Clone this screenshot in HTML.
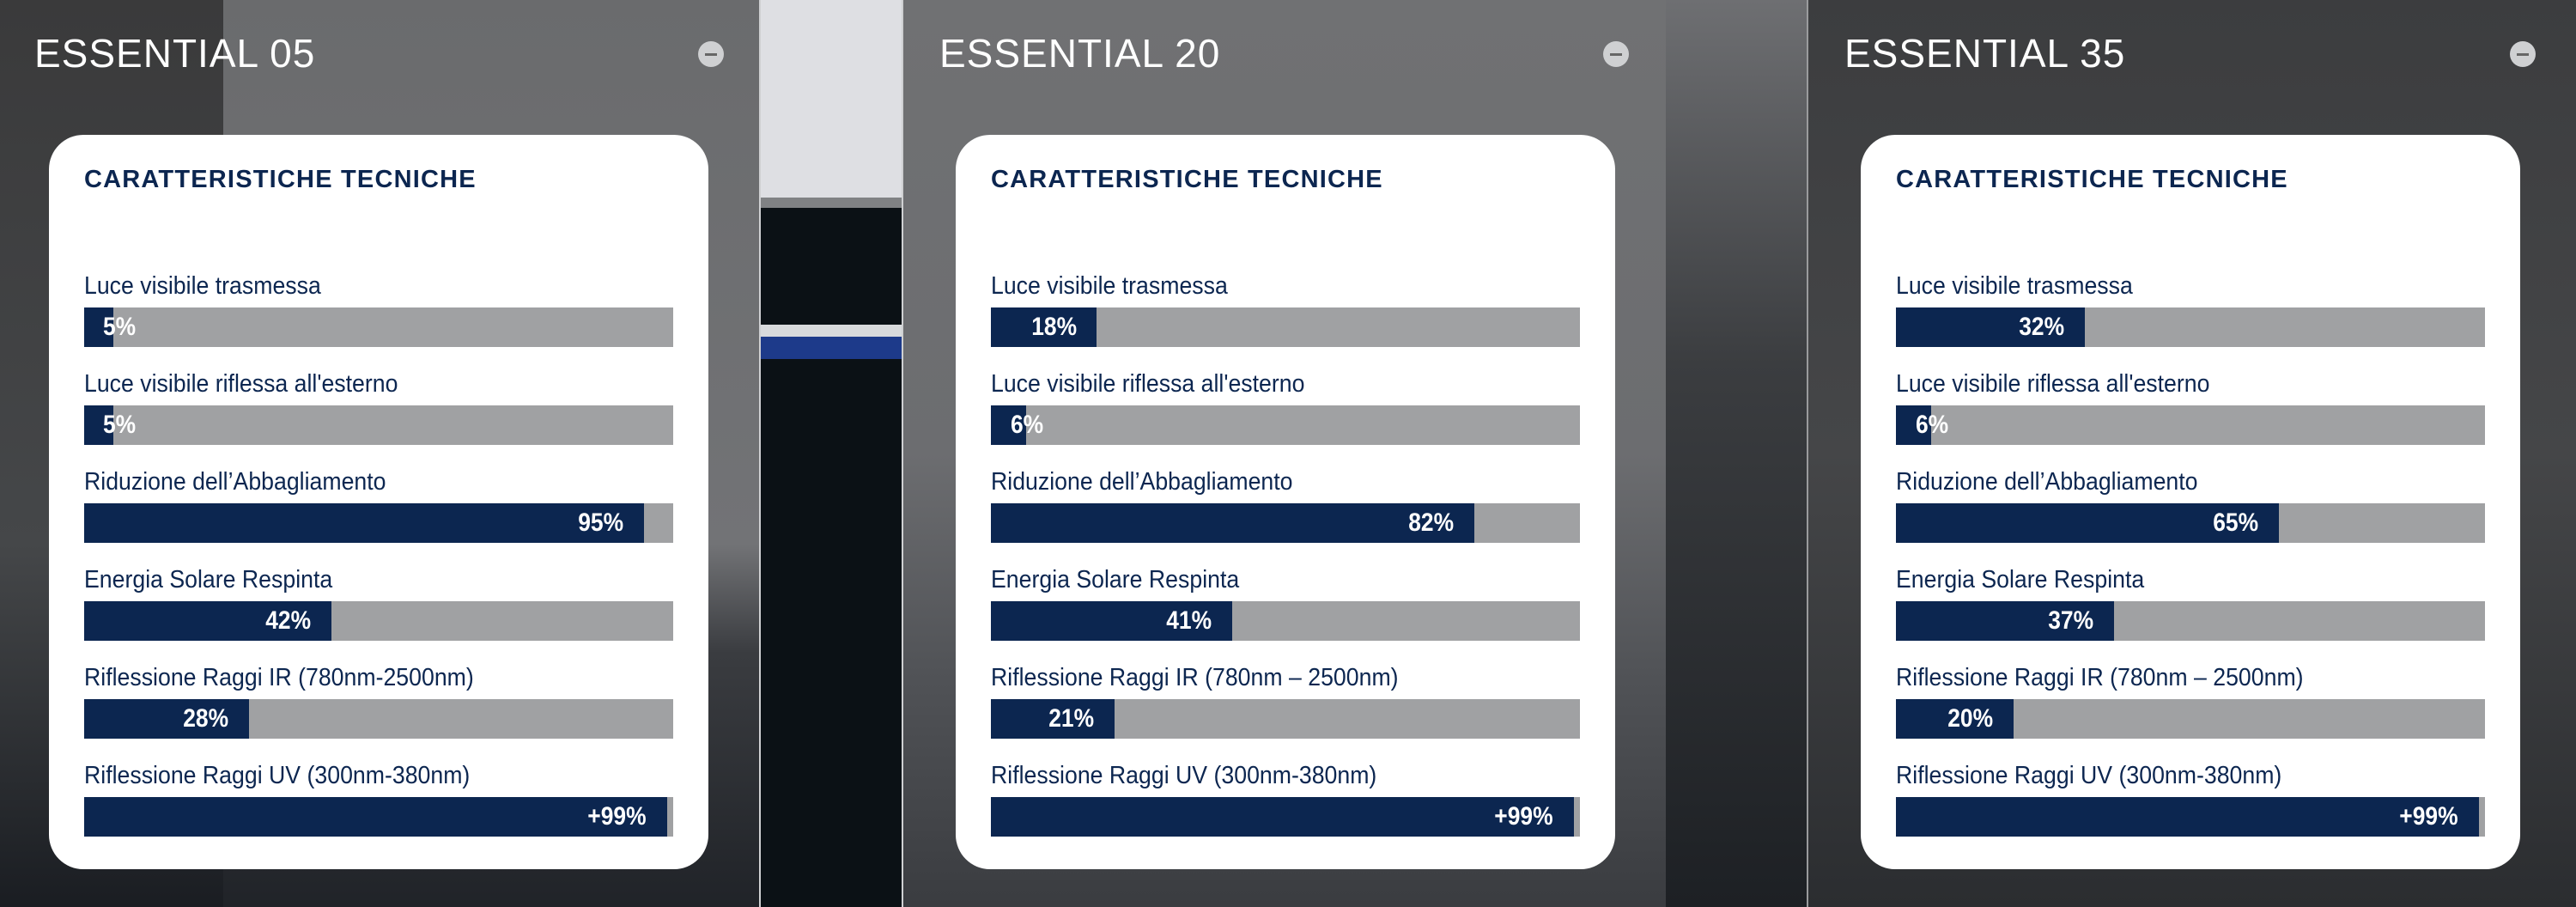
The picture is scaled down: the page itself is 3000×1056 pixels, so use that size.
<!DOCTYPE html>
<html><head><meta charset="utf-8"><style>
*{margin:0;padding:0;box-sizing:border-box}
body{width:3000px;height:1056px;overflow:hidden;position:relative;background:#1a1c1f;font-family:"Liberation Sans",sans-serif}
.abs{position:absolute}
.title{position:absolute;top:35px;color:#fff;font-size:46px;letter-spacing:1px}
.minus{position:absolute;top:48px;width:30px;height:30px;border-radius:50%;background:#cfd0d2}
.minus:after{content:"";position:absolute;left:8px;right:8px;top:14px;height:3px;background:#666}
.card{position:absolute;top:157px;width:768px;height:855px;background:#fff;border-radius:40px}
.card h2{position:absolute;left:41px;top:36px;font-size:29px;color:#0c2650;font-weight:bold;letter-spacing:1.2px;white-space:nowrap}
.lbl{position:absolute;left:41px;font-size:29px;color:#0c2650;white-space:nowrap;transform:scaleX(0.92);transform-origin:left}
.bar{position:absolute;left:41px;width:686px;height:46px;background:#a0a1a3}
.fill{position:absolute;left:0;top:0;height:46px;background:#0c2650}
.val{position:absolute;top:0;line-height:46px;color:#fff;font-weight:bold;font-size:30px;white-space:nowrap;transform:scaleX(0.88);transform-origin:right}
.val.l{transform-origin:left}
</style></head><body>
<div class="abs" style="left:0;top:0;width:3000px;height:1056px;background:linear-gradient(180deg,#3c3d40 0%,#2c2e31 60%,#16191c 100%)"></div>
<div class="abs" style="left:0;top:0;width:260px;height:1056px;background:linear-gradient(180deg,#3a3a3b,#454749 60%,#1a1d22)"></div>
<div class="abs" style="left:260px;top:0;width:624px;height:1056px;background:linear-gradient(180deg,#6a6b6d 0%,#727376 60%,#3a3c40 72%,#202328 100%)"></div>
<div class="abs" style="left:884px;top:0;width:168px;height:230px;background:#dedfe3"></div>
<div class="abs" style="left:884px;top:230px;width:168px;height:12px;background:#808284"></div>
<div class="abs" style="left:884px;top:242px;width:168px;height:814px;background:#0b1115"></div>
<div class="abs" style="left:884px;top:378px;width:168px;height:14px;background:#d8dadc"></div>
<div class="abs" style="left:884px;top:392px;width:168px;height:26px;background:#1d3a8a"></div>
<div class="abs" style="left:884px;top:0;width:2px;height:1056px;background:#cfd0d2"></div>
<div class="abs" style="left:1050px;top:0;width:2px;height:1056px;background:#cfd0d2"></div>
<div class="abs" style="left:1052px;top:0;width:888px;height:1056px;background:linear-gradient(180deg,#707173 0%,#6c6d70 50%,#505256 75%,#3a3c40 100%)"></div>
<div class="abs" style="left:1940px;top:0;width:166px;height:1056px;background:linear-gradient(180deg,#6e6f72 0%,#3b3d40 40%,#1d2024 100%)"></div>
<div class="abs" style="left:2104px;top:0;width:2px;height:1056px;background:#9a9b9d"></div>
<div class="abs" style="left:2106px;top:0;width:894px;height:1056px;background:linear-gradient(180deg,#3c3d3f 0%,#454648 50%,#2b2d30 100%)"></div>

<div class="title" style="left:40px">ESSENTIAL 05</div>
<div class="minus" style="left:813px"></div>
<div class="title" style="left:1094px">ESSENTIAL 20</div>
<div class="minus" style="left:1867px"></div>
<div class="title" style="left:2148px">ESSENTIAL 35</div>
<div class="minus" style="left:2923px"></div>

<div class="card" style="left:57px">
<h2>CARATTERISTICHE TECNICHE</h2>
<div class="lbl" style="top:160px">Luce visibile trasmessa</div>
<div class="bar" style="top:201px"><div class="fill" style="width:5%"></div><div class="val l" style="left:22px">5%</div></div>
<div class="lbl" style="top:274px">Luce visibile riflessa all'esterno</div>
<div class="bar" style="top:315px"><div class="fill" style="width:5%"></div><div class="val l" style="left:22px">5%</div></div>
<div class="lbl" style="top:388px">Riduzione dell’Abbagliamento</div>
<div class="bar" style="top:429px"><div class="fill" style="width:95%"></div><div class="val" style="right:58px">95%</div></div>
<div class="lbl" style="top:502px">Energia Solare Respinta</div>
<div class="bar" style="top:543px"><div class="fill" style="width:42%"></div><div class="val" style="right:422px">42%</div></div>
<div class="lbl" style="top:616px">Riflessione Raggi IR (780nm-2500nm)</div>
<div class="bar" style="top:657px"><div class="fill" style="width:28%"></div><div class="val" style="right:518px">28%</div></div>
<div class="lbl" style="top:730px">Riflessione Raggi UV (300nm-380nm)</div>
<div class="bar" style="top:771px"><div class="fill" style="width:99%"></div><div class="val" style="right:31px">+99%</div></div>
</div>

<div class="card" style="left:1113px">
<h2>CARATTERISTICHE TECNICHE</h2>
<div class="lbl" style="top:160px">Luce visibile trasmessa</div>
<div class="bar" style="top:201px"><div class="fill" style="width:18%"></div><div class="val" style="right:586px">18%</div></div>
<div class="lbl" style="top:274px">Luce visibile riflessa all'esterno</div>
<div class="bar" style="top:315px"><div class="fill" style="width:6%"></div><div class="val l" style="left:23px">6%</div></div>
<div class="lbl" style="top:388px">Riduzione dell’Abbagliamento</div>
<div class="bar" style="top:429px"><div class="fill" style="width:82%"></div><div class="val" style="right:147px">82%</div></div>
<div class="lbl" style="top:502px">Energia Solare Respinta</div>
<div class="bar" style="top:543px"><div class="fill" style="width:41%"></div><div class="val" style="right:429px">41%</div></div>
<div class="lbl" style="top:616px">Riflessione Raggi IR (780nm – 2500nm)</div>
<div class="bar" style="top:657px"><div class="fill" style="width:21%"></div><div class="val" style="right:566px">21%</div></div>
<div class="lbl" style="top:730px">Riflessione Raggi UV (300nm-380nm)</div>
<div class="bar" style="top:771px"><div class="fill" style="width:99%"></div><div class="val" style="right:31px">+99%</div></div>
</div>

<div class="card" style="left:2167px">
<h2>CARATTERISTICHE TECNICHE</h2>
<div class="lbl" style="top:160px">Luce visibile trasmessa</div>
<div class="bar" style="top:201px"><div class="fill" style="width:32%"></div><div class="val" style="right:490px">32%</div></div>
<div class="lbl" style="top:274px">Luce visibile riflessa all'esterno</div>
<div class="bar" style="top:315px"><div class="fill" style="width:6%"></div><div class="val l" style="left:23px">6%</div></div>
<div class="lbl" style="top:388px">Riduzione dell’Abbagliamento</div>
<div class="bar" style="top:429px"><div class="fill" style="width:65%"></div><div class="val" style="right:264px">65%</div></div>
<div class="lbl" style="top:502px">Energia Solare Respinta</div>
<div class="bar" style="top:543px"><div class="fill" style="width:37%"></div><div class="val" style="right:456px">37%</div></div>
<div class="lbl" style="top:616px">Riflessione Raggi IR (780nm – 2500nm)</div>
<div class="bar" style="top:657px"><div class="fill" style="width:20%"></div><div class="val" style="right:573px">20%</div></div>
<div class="lbl" style="top:730px">Riflessione Raggi UV (300nm-380nm)</div>
<div class="bar" style="top:771px"><div class="fill" style="width:99%"></div><div class="val" style="right:31px">+99%</div></div>
</div>
</body></html>
